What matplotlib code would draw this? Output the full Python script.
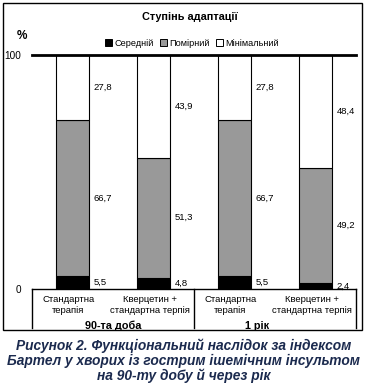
import matplotlib.pyplot as plt
from matplotlib.patches import Rectangle, Patch

plt.rcParams['font.family'] = ['Liberation Sans', 'DejaVu Sans']

# data
categories = ['Стандартна\nтерапія', 'Кверцетин +\nстандартна терпія',
              'Стандартна\nтерапія', 'Кверцетин +\nстандартна терпія']
groups = ['90-та доба', '1 рік']
series_names = ['Середній', 'Помірний', 'Мінімальний']
serednii = [5.5, 4.8, 5.5, 2.4]
pomirnyi = [66.7, 51.3, 66.7, 49.2]
minimalnyi = [27.8, 43.9, 27.8, 48.4]
colors = ['#000000', '#999999', '#ffffff']

fig = plt.figure(figsize=(3.67, 3.89), dpi=100)
ax = fig.add_axes([0.0872, 0.257, 0.8828, 0.602])

x = list(range(len(categories)))
bottom = [0] * len(categories)
for vals, col in zip([serednii, pomirnyi, minimalnyi], colors):
    ax.bar(x, vals, width=0.4, bottom=bottom, color=col, edgecolor='black', linewidth=0.8)
    for i, v in enumerate(vals):
        ax.text(i + 0.26, bottom[i] + v / 2, f'{v:.1f}'.replace('.', ','),
                fontsize=6.8, va='center', ha='left')
    bottom = [b + v for b, v in zip(bottom, vals)]

ax.set_xlim(-0.5, 3.5)
ax.set_ylim(0, 100)
ax.set_yticks([0, 100])
ax.set_yticklabels(['0', '100'], fontsize=7.2)
ax.tick_params(axis='y', length=0, pad=8)
ax.set_xticks([])
for s in ['left', 'right']:
    ax.spines[s].set_visible(False)
ax.spines['top'].set_linewidth(2)
ax.spines['bottom'].set_linewidth(1)

# category axis box
for xv in [-0.5, 1.5, 3.5]:
    ax.plot([xv, xv], [0, -16.7], color='black', lw=1, clip_on=False)
for i, c in enumerate(categories):
    ax.text(i - 0.05, -2.6, c, ha='center', va='top', fontsize=6.8, linespacing=1.2)
ax.text(0.5, -15.6, groups[0], ha='center', va='center', fontsize=7.8, fontweight='bold')
ax.text(2.28, -15.6, groups[1], ha='center', va='center', fontsize=7.8, fontweight='bold')

# titles and legend
fig.text(190 / 367, 1 - 17 / 389, 'Ступінь адаптації', ha='center', va='center',
         fontsize=7.8, fontweight='bold')
fig.text(22 / 367, 1 - 36 / 389, '%', ha='center', va='center', fontsize=8.5, fontweight='bold')
handles = [Patch(facecolor=c, edgecolor='black', linewidth=0.7) for c in colors]
fig.legend(handles, series_names, loc='center', bbox_to_anchor=(192 / 367, 1 - 43 / 389),
           ncol=3, frameon=False, fontsize=6.6, handlelength=0.8, handleheight=0.8,
           handletextpad=0.3, columnspacing=0.6)

# outer frame
fig.patches.append(Rectangle((3 / 367, 0.152), 359 / 367, 0.84, transform=fig.transFigure,
                             fill=False, edgecolor='black', linewidth=1))

caption = ('Рисунок 2. Функціональний наслідок за індексом\n'
           'Бартел у хворих із гострим ішемічним інсультом\n'
           'на 90-ту добу й через рік')
fig.text(0.5, 1 - 361 / 389, caption, ha='center', va='center', fontsize=9.9,
         fontweight='bold', fontstyle='italic', color='#1b2a4e', linespacing=1.05)

plt.savefig('out.png', dpi=100)
